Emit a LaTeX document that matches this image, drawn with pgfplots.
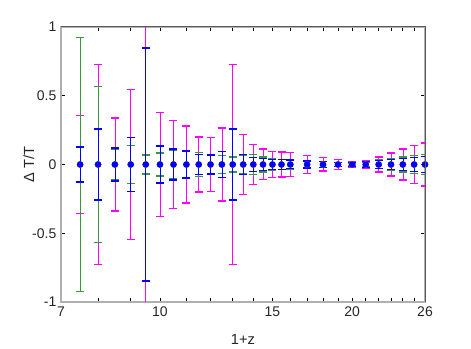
\documentclass[border=0pt]{standalone}
\usepackage{fontspec}
\setmainfont{Liberation Sans}
\usepackage{pgfplots}
\usepackage{pgfplotstable}
\pgfplotsset{compat=1.18}
\definecolor{mag}{HTML}{FF00FF}
\definecolor{grn}{HTML}{3C963C}
\definecolor{blu}{HTML}{0000FF}
\definecolor{lgray}{HTML}{B0B0B0}
\definecolor{dgray}{HTML}{5A5A5A}
\definecolor{tick}{HTML}{404040}

% half-widths of the error bars, all centred on zero
\pgfplotstableread{
x    y  m     g     b
7.5  0  0.356 0.925 0.127
8    0  0.729 0.566 0.258
8.5  0  0.338 0.108 0.120
9    0  0.545 0.137 0.196
9.5  0  1.300 0.069 0.847
10   0  0.376 0.084 0.135
10.5 0  0.321 0.101 0.113
11   0  0.280 0.097 0.098
11.5 0  0.200 0.086 0.072
12   0  0.198 0.065 0.069
12.5 0  0.266 0.067 0.096
13   0  0.729 0.055 0.258
13.5 0  0.217 0.069 0.074
14   0  0.144 0.070 0.052
14.5 0  0.112 0.055 0.046
15   0  0.097 0.042 0.036
15.5 0  0.091 0.036 0.035
16   0  0.088 0.033 0.032
17   0  0.068 0.025 0.026
18   0  0.048 0.020 0.022
19   0  0.035 0.015 0.016
20   0  0.024 0.011 0.012
21   0  0.030 0.017 0.020
22   0  0.054 0.032 0.027
23   0  0.084 0.042 0.035
24   0  0.113 0.055 0.044
25   0  0.137 0.065 0.052
26   0  0.156 0.074 0.061
}\errtab

\begin{document}
\begin{tikzpicture}
\begin{axis}[
  scale only axis, width=273pt, height=206.25pt,
  xmode=log, xmin=7, xmax=26, ymin=-1, ymax=1,
  xtick={7,10,15,20,26}, xticklabels={7,10,15,20,26},
  minor xtick={8,9,11,12,13,14,16,17,18,19,21,22,23,24,25},
  ytick={-1,-0.5,0,0.5,1}, yticklabels={-1,-0.5,0,0.5,1},
  major tick length=3pt, minor tick length=3pt,
  every tick/.style={tick, line width=0.6pt},
  axis line style={lgray, line width=1.1pt},
  tick label style={font=\fontsize{10.5}{12}\selectfont, text=black!85},
  label style={font=\fontsize{11}{13}\selectfont, text=black!85},
  xlabel={1+z}, ylabel={Δ T/T},
  xlabel style={at={(axis description cs:0.5,-0.135)}, anchor=center},
  ylabel style={at={(axis description cs:-0.088,0.5)}, anchor=center},
  error bars/y dir=both, error bars/y explicit,
]
\addplot[only marks, mark=none, mag, line width=0.9pt,
  error bars/error mark options={rotate=90, mark size=3pt, line width=0.9pt, mag}]
  table[x=x, y=y, y error=m] {\errtab};
\addplot[only marks, mark=none, grn, line width=0.9pt,
  error bars/error mark options={rotate=90, mark size=3pt, line width=0.9pt, grn}]
  table[x=x, y=y, y error=g] {\errtab};
\addplot[only marks, mark=*, mark size=1.9pt, blu, line width=0.9pt,
  error bars/error mark options={rotate=90, mark size=3pt, line width=0.9pt, blu}]
  table[x=x, y=y, y error=b] {\errtab};
\end{axis}
\draw[dgray, line width=0.75pt] (current axis.north west) -- (current axis.north east) -- (current axis.south east);
\path ([xshift=-45.75pt,yshift=-34.5pt]current axis.south west) rectangle ([xshift=34.5pt,yshift=20.25pt]current axis.north east);
\end{tikzpicture}
\end{document}
